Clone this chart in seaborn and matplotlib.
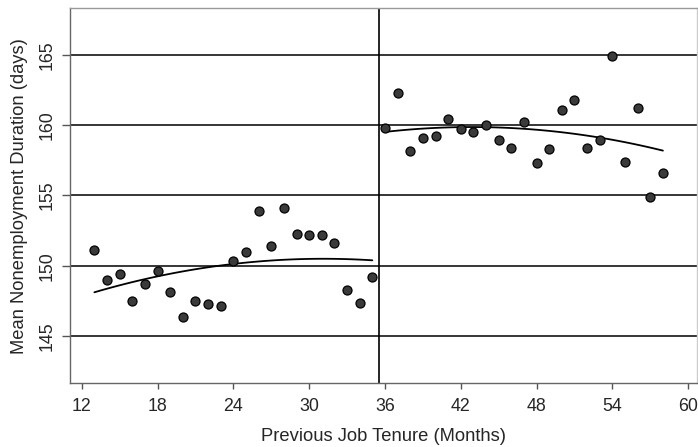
import numpy as np
import pandas as pd
import matplotlib
matplotlib.use("Agg")
import matplotlib.pyplot as plt
import seaborn as sns

# Data
months_left = [13, 14, 15, 16, 17, 18, 19, 20, 21, 22, 23, 24,
               25, 26, 27, 28, 29, 30, 31, 32, 33, 34, 35]
duration_left = [151.14, 148.98, 149.40, 147.49, 148.72, 149.64, 148.10, 146.37,
                 147.49, 147.30, 147.13, 150.36, 150.95, 153.90, 151.42, 154.10,
                 152.25, 152.16, 152.16, 151.64, 148.24, 147.32, 149.22]
months_right = [36, 37, 38, 39, 40, 41, 42, 43, 44, 45, 46, 47,
                48, 49, 50, 51, 52, 53, 54, 55, 56, 57, 58]
duration_right = [159.81, 162.28, 158.18, 159.08, 159.20, 160.43, 159.74, 159.50,
                  160.03, 158.96, 158.37, 160.26, 157.28, 158.34, 161.10, 161.80,
                  158.37, 158.96, 164.91, 157.40, 161.20, 154.89, 156.59]
cutoff = 35.5
x_ticks = [12, 18, 24, 30, 36, 42, 48, 54, 60]
y_ticks = [145, 150, 155, 160, 165]

df_left = pd.DataFrame({"tenure": months_left, "duration": duration_left})
df_right = pd.DataFrame({"tenure": months_right, "duration": duration_right})

sns.set_style("white")
plt.rcParams["font.family"] = ["Liberation Sans", "DejaVu Sans"]

fig = plt.figure(figsize=(6.98, 4.47), dpi=100)
ax = fig.add_axes([0.1003, 0.1432, 0.8983, 0.8382])

for y in y_ticks:
    ax.axhline(y, color="black", lw=1.1, zorder=1)
ax.axvline(cutoff, color="black", lw=1.2, zorder=1)

for d in (df_left, df_right):
    sns.regplot(data=d, x="tenure", y="duration", order=2, ci=None,
                scatter=False, ax=ax,
                line_kws=dict(color="black", lw=1.3, zorder=2))
    sns.scatterplot(data=d, x="tenure", y="duration", ax=ax, s=42,
                    color="#3a3a3a", edgecolor="black", linewidth=0.9,
                    zorder=3)

ax.set_xlim(11.07, 60.7)
ax.set_ylim(141.65, 168.32)
ax.set_xticks(x_ticks)
ax.set_yticks(y_ticks)
ax.set_yticklabels([str(v) for v in y_ticks], rotation=90, va="center")
ax.tick_params(axis="both", direction="out", width=1,
               color="#555555", labelsize=12.8, bottom=True, left=True)
ax.tick_params(axis="x", length=4.5, pad=6)
ax.tick_params(axis="y", length=6, pad=4)

for side in ["left", "bottom", "top", "right"]:
    ax.spines[side].set_color("#666666")
    ax.spines[side].set_linewidth(1.0)
ax.spines["top"].set_color("#999999")
ax.spines["right"].set_color("#cccccc")

ax.set_xlabel("Previous Job Tenure (Months)", fontsize=13.2, labelpad=10)
ax.set_ylabel("Mean Nonemployment Duration (days)", fontsize=13.2, labelpad=8)

fig.savefig("out.png", dpi=100)
